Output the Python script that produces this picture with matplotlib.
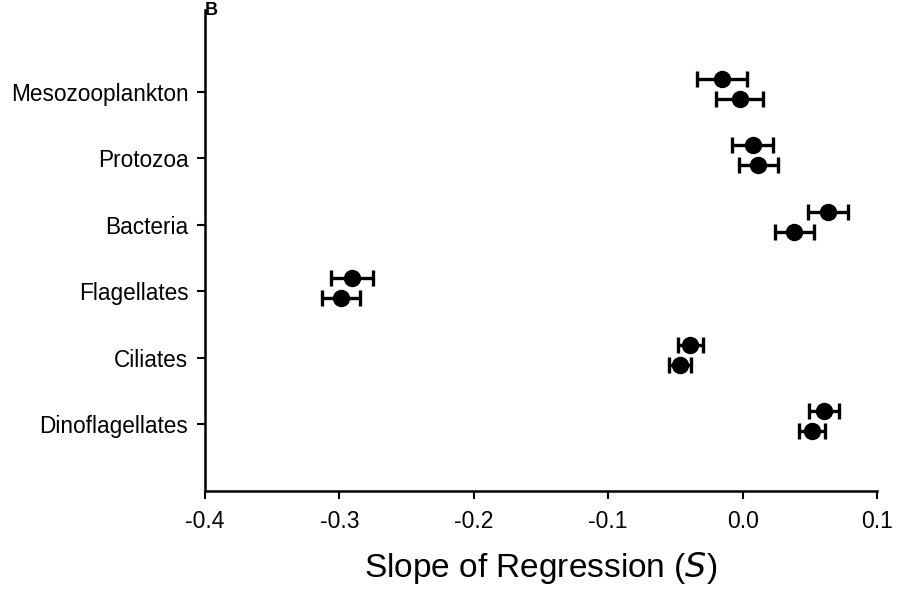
import numpy as np
import matplotlib.pyplot as plt

plt.rcParams['font.family'] = ['Liberation Sans', 'DejaVu Sans']

groups = ["Mesozooplankton", "Protozoa", "Bacteria", "Flagellates", "Ciliates", "Dinoflagellates"]

# slope estimates and their errors, two estimates per group
slope_upper = [-0.0155, 0.0075, 0.0635, -0.2905, -0.0390, 0.0607]
err_upper = [0.0187, 0.0152, 0.0148, 0.0157, 0.0092, 0.0110]
slope_lower = [-0.0023, 0.0118, 0.0384, -0.2990, -0.0465, 0.0517]
err_lower = [0.0175, 0.0142, 0.0145, 0.0143, 0.0081, 0.0096]

x_ticks = [-0.4, -0.3, -0.2, -0.1, 0.0, 0.1]


def draw_series(ax, ypos, slopes, errs):
    ax.errorbar(slopes, ypos, xerr=errs, fmt='o', color='black',
                markersize=11.5, elinewidth=2.4, capsize=5.5, capthick=2.4,
                clip_on=False)


def main():
    fig = plt.figure(figsize=(8.98, 5.96), dpi=100)
    ax = fig.add_axes([0.2283, 0.1762, 0.7483, 0.8068])

    ypos = np.arange(len(groups), 0, -1)
    draw_series(ax, ypos + 0.2, slope_upper, err_upper)
    draw_series(ax, ypos - 0.1, slope_lower, err_lower)

    ax.set_xlim(-0.4, 0.1)
    ax.set_ylim(0, 7.23)
    ax.set_xticks(x_ticks)
    ax.set_xticklabels([f"{t:.1f}" for t in x_ticks])
    ax.set_yticks(ypos)
    ax.set_yticklabels(groups)

    ax.spines['top'].set_visible(False)
    ax.spines['right'].set_visible(False)
    ax.spines['left'].set_linewidth(1.8)
    ax.spines['bottom'].set_linewidth(1.8)
    ax.tick_params(axis='x', direction='out', length=6, width=1.5,
                   labelsize=16.5, pad=8)
    ax.tick_params(axis='y', direction='out', length=6, width=1.5,
                   labelsize=16.3, pad=6)

    ax.set_xlabel("Slope of Regression ($\\it{S}$)", fontsize=24, labelpad=12)
    ax.text(0.0, 1.0, "B", transform=ax.transAxes, fontsize=13,
            fontweight='bold', ha='left', va='center')

    fig.savefig("out.png", dpi=100)


if __name__ == "__main__":
    main()
